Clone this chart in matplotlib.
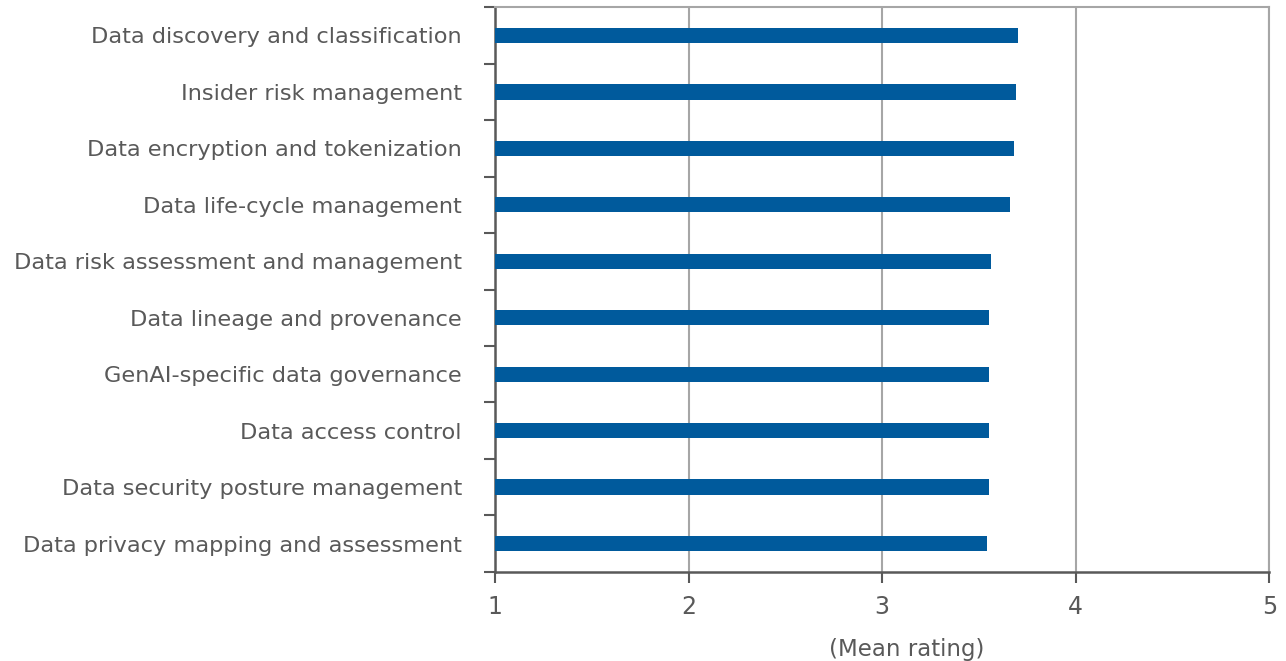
import numpy as np
import matplotlib.pyplot as plt
from matplotlib.ticker import FixedLocator

labels = ["Data discovery and classification",
          "Insider risk management",
          "Data encryption and tokenization",
          "Data life-cycle management",
          "Data risk assessment and management",
          "Data lineage and provenance",
          "GenAI-specific data governance",
          "Data access control",
          "Data security posture management",
          "Data privacy mapping and assessment"]
values = [3.70, 3.69, 3.68, 3.66, 3.56, 3.55, 3.55, 3.55, 3.55, 3.54]
xticks = [1, 2, 3, 4, 5]

plt.rcParams['font.family'] = ['DejaVu Sans']
txt = "#595959"
grid = "#A6A6A6"

fig = plt.figure(figsize=(12.86, 6.61), dpi=100)
ax = fig.add_axes([0.385, 0.135, 0.602, 0.854])

y = np.arange(len(labels))
ax.barh(y, np.array(values) - 1, left=1, height=0.27, color="#005A9C", zorder=3)
ax.set_xlim(1, 5)
ax.set_ylim(len(labels) - 0.5, -0.5)

ax.set_xticks(xticks)
ax.set_xticklabels([str(t) for t in xticks])
ax.set_yticks(y)
ax.set_yticklabels(labels)
ax.yaxis.set_minor_locator(FixedLocator(np.arange(-0.5, len(labels), 1)))
ax.tick_params(axis='y', which='major', length=0, pad=24, labelsize=16.2, labelcolor=txt)
ax.tick_params(axis='y', which='minor', length=8, width=1.5, color=txt)
ax.tick_params(axis='x', which='major', length=8, width=1.5, color=txt, labelsize=17,
               labelcolor=txt, pad=9)

ax.grid(axis='x', color=grid, linewidth=1.5, zorder=0)
for s in ['left', 'bottom']:
    ax.spines[s].set_color(txt)
    ax.spines[s].set_linewidth(1.8)
for s in ['top', 'right']:
    ax.spines[s].set_color(grid)
    ax.spines[s].set_linewidth(1.5)

ax.set_xlabel("(Mean rating)", fontsize=16.5, color=txt)
ax.xaxis.set_label_coords(0.532, -0.118)

fig.savefig("out.png", dpi=100)
